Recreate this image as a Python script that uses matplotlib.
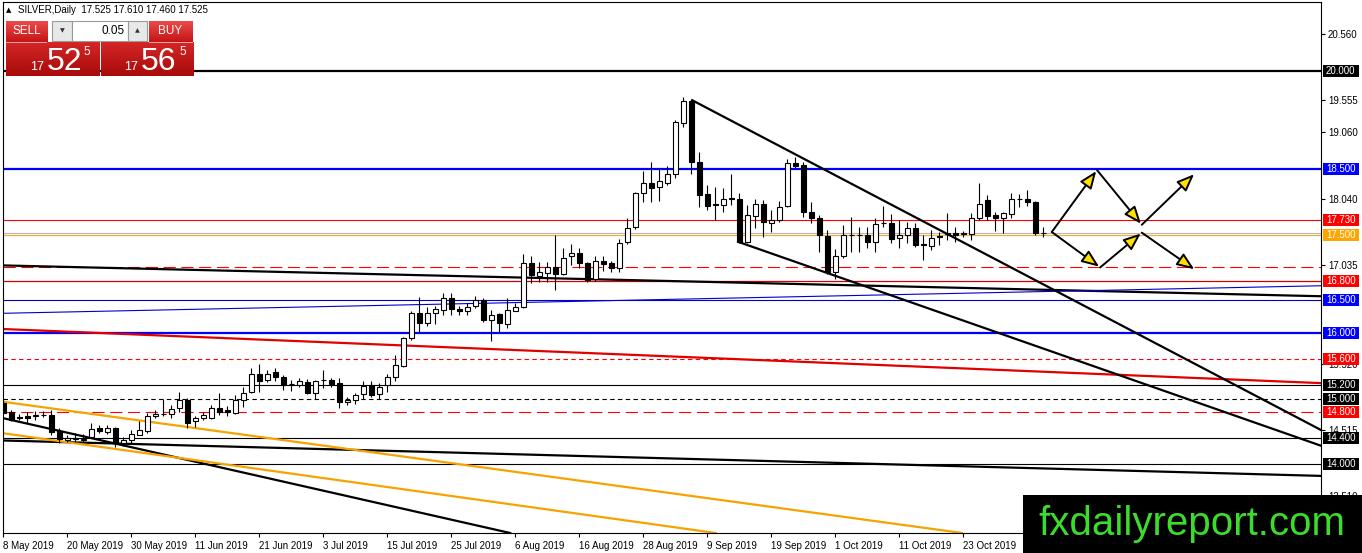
import numpy as np
import matplotlib
matplotlib.use("Agg")
import matplotlib.pyplot as plt
from matplotlib.patches import Rectangle, FancyArrowPatch
from matplotlib.transforms import blended_transform_factory
from matplotlib.colors import LinearSegmentedColormap

plt.rcParams['font.family'] = ['Liberation Sans', 'DejaVu Sans']

W, H = 1362, 553

# SILVER daily bars, 8 May 2019 onwards
opens = [14.93, 14.79, 14.72, 14.74, 14.73, 14.75, 14.75, 14.51, 14.36, 14.38,
         14.36, 14.41, 14.55, 14.49, 14.55, 14.32, 14.36, 14.45, 14.51, 14.73,
         14.77, 14.76, 14.85, 14.98, 14.65, 14.70, 14.71, 14.85, 14.83, 14.78,
         14.97, 15.10, 15.37, 15.28, 15.40, 15.33, 15.22, 15.21, 15.25, 15.09,
         15.28, 15.28, 15.23, 14.95, 14.98, 15.07, 15.20, 15.07, 15.20, 15.33,
         15.50, 15.92, 16.30, 16.15, 16.30, 16.35, 16.54, 16.37, 16.34, 16.41,
         16.50, 16.20, 16.29, 16.14, 16.34, 16.39, 17.06, 16.87, 16.91, 17.00,
         16.90, 17.17, 17.22, 17.06, 16.82, 17.10, 17.06, 16.99, 17.38, 17.61,
         18.13, 18.29, 18.22, 18.28, 18.42, 19.20, 19.54, 18.60, 18.12, 17.96,
         17.95, 18.05, 18.04, 17.38, 17.78, 17.97, 17.68, 17.72, 17.93, 18.59,
         18.56, 17.85, 17.76, 17.48, 16.93, 17.17, 17.49, 17.50, 17.50, 17.38,
         17.68, 17.67, 17.45, 17.49, 17.60, 17.36, 17.33, 17.47, 17.51, 17.53,
         17.51, 17.51, 17.75, 18.03, 17.80, 17.76, 17.82, 18.04, 18.05, 17.99,
         17.525]
highs = [14.97, 14.83, 14.77, 14.80, 14.81, 14.81, 14.82, 14.55, 14.44, 14.47,
         14.46, 14.62, 14.60, 14.60, 14.57, 14.42, 14.52, 14.65, 14.78, 14.83,
         15.00, 14.90, 15.10, 15.01, 14.74, 14.79, 14.90, 15.08, 14.88, 15.05,
         15.18, 15.47, 15.52, 15.43, 15.47, 15.36, 15.28, 15.32, 15.30, 15.28,
         15.43, 15.31, 15.31, 15.02, 15.08, 15.26, 15.26, 15.24, 15.38, 15.66,
         15.94, 16.33, 16.55, 16.39, 16.41, 16.61, 16.61, 16.41, 16.45, 16.57,
         16.54, 16.35, 16.31, 16.53, 16.45, 17.20, 17.17, 17.09, 17.09, 17.49,
         17.29, 17.36, 17.29, 17.08, 17.17, 17.17, 17.10, 17.44, 17.75, 18.15,
         18.47, 18.61, 18.51, 18.54, 19.25, 19.60, 19.56, 18.76, 18.25, 18.23,
         18.21, 18.43, 18.14, 17.95, 18.05, 18.03, 17.88, 18.01, 18.66, 18.69,
         18.61, 18.00, 17.80, 17.57, 17.28, 17.65, 17.77, 17.61, 17.61, 17.75,
         17.93, 17.82, 17.72, 17.69, 17.67, 17.49, 17.57, 17.54, 17.83, 17.62,
         17.56, 17.83, 18.28, 18.10, 17.85, 17.85, 18.13, 18.12, 18.18, 18.02,
         17.61]
lows = [14.76, 14.66, 14.68, 14.63, 14.68, 14.72, 14.45, 14.32, 14.33, 14.33,
        14.33, 14.40, 14.47, 14.46, 14.26, 14.27, 14.32, 14.44, 14.47, 14.71,
        14.73, 14.70, 14.80, 14.55, 14.57, 14.68, 14.69, 14.75, 14.74, 14.77,
        14.87, 15.08, 15.10, 15.25, 15.26, 15.13, 15.11, 15.17, 15.07, 15.00,
        15.16, 15.18, 14.85, 14.90, 14.92, 15.00, 15.03, 15.00, 15.10, 15.26,
        15.48, 15.90, 16.02, 16.11, 16.14, 16.27, 16.27, 16.27, 16.27, 16.38,
        16.16, 15.87, 16.02, 16.07, 16.33, 16.38, 16.76, 16.78, 16.77, 16.66,
        16.88, 17.04, 16.99, 16.78, 16.80, 16.94, 16.93, 16.93, 17.36, 17.59,
        18.00, 17.99, 18.01, 18.26, 18.37, 19.14, 18.43, 17.92, 17.87, 17.72,
        17.85, 17.95, 17.37, 17.37, 17.60, 17.46, 17.54, 17.70, 17.92, 18.51,
        17.77, 17.67, 17.24, 16.90, 16.83, 17.14, 17.24, 17.24, 17.30, 17.24,
        17.62, 17.37, 17.29, 17.37, 17.31, 17.12, 17.26, 17.34, 17.42, 17.39,
        17.46, 17.42, 17.72, 17.72, 17.56, 17.53, 17.75, 17.92, 17.93, 17.49,
        17.46]
closes = [14.78, 14.68, 14.70, 14.70, 14.75, 14.755, 14.49, 14.38, 14.40, 14.40,
          14.39, 14.53, 14.51, 14.55, 14.32, 14.37, 14.46, 14.52, 14.73, 14.77,
          14.76, 14.84, 14.97, 14.62, 14.70, 14.75, 14.85, 14.80, 14.80, 14.98,
          15.09, 15.37, 15.27, 15.38, 15.33, 15.21, 15.215, 15.27, 15.09, 15.27,
          15.285, 15.22, 14.95, 14.98, 15.05, 15.19, 15.05, 15.18, 15.33, 15.51,
          15.92, 16.30, 16.15, 16.30, 16.36, 16.54, 16.36, 16.34, 16.40, 16.51,
          16.20, 16.27, 16.15, 16.35, 16.39, 17.06, 16.88, 16.93, 17.00, 16.90,
          17.15, 17.22, 17.06, 16.81, 17.10, 17.05, 16.99, 17.37, 17.60, 18.14,
          18.29, 18.21, 18.32, 18.42, 19.22, 19.54, 18.60, 18.10, 17.94, 17.95,
          18.05, 18.05, 17.39, 17.80, 17.97, 17.70, 17.73, 17.92, 18.59, 18.55,
          17.85, 17.76, 17.49, 16.93, 17.17, 17.49, 17.50, 17.49, 17.38, 17.66,
          17.68, 17.44, 17.50, 17.60, 17.34, 17.34, 17.45, 17.48, 17.52, 17.49,
          17.52, 17.76, 17.97, 17.78, 17.76, 17.83, 18.04, 18.04, 17.99, 17.52,
          17.525]

date_labels = ["8 May 2019", "20 May 2019", "30 May 2019", "11 Jun 2019",
               "21 Jun 2019", "3 Jul 2019", "15 Jul 2019", "25 Jul 2019",
               "6 Aug 2019", "16 Aug 2019", "28 Aug 2019", "9 Sep 2019",
               "19 Sep 2019", "1 Oct 2019", "11 Oct 2019", "23 Oct 2019"]
date_bars = list(range(0, 121, 8))

price_ticks = [20.560, 19.555, 19.060, 18.040, 17.035, 15.520, 14.515, 13.510]

# horizontal levels that carry a tag on the price scale
level_prices = [20.0, 18.5, 17.73, 17.5, 16.8, 16.5, 16.0, 15.6, 15.2, 15.0, 14.8, 14.4, 14.0]
tag_colors = ['black', '#0000ff', '#ff0000', '#ffa500', '#ff0000', '#0000ff', '#0000ff',
              '#ff0000', 'black', 'black', '#ff0000', 'black', 'black']
line_colors = ['black', '#0000ff', '#ff0000', '#e8b040', '#d00000', '#0000cc', '#0000ff',
               '#ff0000', 'black', 'black', '#ff0000', 'black', 'black']
line_widths = [1.6, 1.6, 0.8, 0.9, 0.9, 0.8, 1.6, 0.8, 0.8, 0.8, 0.8, 0.8, 0.8]
line_styles = ['-', '-', '-', '-', '-', '-', '-', (0, (4, 3)), '-', (0, (4, 3)),
               (0, (11, 5)), '-', '-']

bid_price = 17.525
support_dashed = 17.0

# trend lines through two anchor points (bar index, price)
trend_a = [(0, 17.03), (0, 16.30), (0, 16.06), (0, 14.36), (0, 14.70), (0, 14.95), (0, 14.47)]
trend_b = [(164.7, 16.56), (164.7, 16.72), (164.7, 15.235), (164.7, 13.82),
           (52.1, 13.26), (52.1, 14.08), (52.1, 13.58)]
trend_colors = ['black', '#0000cc', '#e00000', 'black', 'black', '#f5a300', '#f5a300']
trend_widths = [1.6, 0.8, 1.6, 1.6, 1.6, 1.6, 1.6]

# wedge rays, starting at the first anchor and running right
ray_a = [(86.1, 19.55), (91.85, 17.39)]
ray_b = [(164.7, 14.52), (164.7, 14.28)]

# scenario arrows
arrow_pts = {'A': (131.05, 17.54), 'B': (136.7, 18.485), 'C': (142.3, 17.65),
             'D': (148.96, 18.435), 'E': (137.1, 17.0), 'F': (142.3, 17.53),
             'G': (149.0, 16.96)}
arrow_path = [('A', 'B'), ('B', 'C'), ('C', 'D'), ('A', 'E'), ('E', 'F'), ('F', 'G')]

fig = plt.figure(figsize=(W / 100, H / 100), dpi=100)
fig.patch.set_facecolor('white')
ax = fig.add_axes([3 / W, 1 - 533 / H, (1321 - 3) / W, (533 - 2) / H])
xmax = 164.7
ax.set_xlim(-0.04, xmax)
ax.set_ylim(12.949, 21.048)

for p, c, lw, ls in zip(level_prices, line_colors, line_widths, line_styles):
    ax.axhline(p, color=c, lw=lw, ls=ls, zorder=1)
ax.axhline(bid_price, color='#b8b8b8', lw=0.8, zorder=1)
ax.axhline(support_dashed, color='#ff0000', lw=0.8, ls=(0, (11, 5)), zorder=1)

for a, b, c, lw in zip(trend_a, trend_b, trend_colors, trend_widths):
    ax.axline(a, b, color=c, lw=lw, zorder=2)

for a, b in zip(ray_a, ray_b):
    slope = (b[1] - a[1]) / (b[0] - a[0])
    xs = np.array([a[0], xmax])
    ax.plot(xs, a[1] + slope * (xs - a[0]), color='black', lw=1.6, zorder=2)

# candles
o = np.array(opens); h = np.array(highs); l = np.array(lows); c = np.array(closes)
x = np.arange(len(o))
up = c >= o
ax.vlines(x, l, h, color='black', lw=0.8, zorder=3)
bottom = np.minimum(o, c)
height = np.maximum(np.abs(c - o), 0.003)
ax.bar(x[up], height[up], bottom=bottom[up], width=0.58, color='white',
       edgecolor='black', lw=0.8, zorder=4)
ax.bar(x[~up], height[~up], bottom=bottom[~up], width=0.58, color='black',
       edgecolor='black', lw=0.8, zorder=4)

for s, e in arrow_path:
    arr = FancyArrowPatch(arrow_pts[s], arrow_pts[e],
                          arrowstyle='-|>,head_length=0.75,head_width=0.3',
                          mutation_scale=14, facecolor='#ffe000', edgecolor='black',
                          lw=1.4, shrinkA=0, shrinkB=1, zorder=6)
    ax.add_patch(arr)

# axes styling
for sp in ax.spines.values():
    sp.set_linewidth(0.8)
ax.yaxis.tick_right()
ax.set_yticks(price_ticks)
ax.yaxis.set_major_formatter('{x:.3f}')
ax.set_xticks(date_bars)
ax.set_xticklabels(date_labels, ha='left')
ax.tick_params(axis='both', labelsize=7, length=3, width=0.8, pad=2, colors='black')
ax.tick_params(axis='x', pad=3)

# price tags on the scale
tr = blended_transform_factory(ax.transAxes, ax.transData)
box_w = 36 / 1318
box_h = 12 / 65.56
for p, col in zip(level_prices, tag_colors):
    ax.add_patch(Rectangle((1.0 + 2 / 1318, p - box_h / 2), box_w, box_h, transform=tr,
                           facecolor=col, edgecolor='none', clip_on=False, zorder=10))
    ax.text(1.0 + 5 / 1318, p, '%.3f' % p, transform=tr, color='white', fontsize=7,
            ha='left', va='center', clip_on=False, zorder=11)


# one-click trading panel and header (figure pixels)
def fx(px):
    return px / W


def fy(py):
    return 1 - py / H


def grad_box(x0, y0, x1, y1, top, bot):
    bax = fig.add_axes([fx(x0), fy(y1), fx(x1 - x0), (y1 - y0) / H], zorder=20)
    cmap = LinearSegmentedColormap.from_list('g', [top, bot])
    bax.imshow(np.linspace(0, 1, 50).reshape(-1, 1), aspect='auto', cmap=cmap,
               extent=[0, 1, 0, 1], origin='upper')
    bax.set_axis_off()
    return bax


grad_box(6, 21, 47, 42, '#ec4a4a', '#c41515')
grad_box(149, 21, 193, 42, '#ec4a4a', '#c41515')
grad_box(6, 42, 99, 76, '#d42626', '#a80a0a')
grad_box(101, 42, 193, 76, '#d42626', '#a80a0a')
fig.add_artist(Rectangle((fx(6), fy(42.5)), fx(41), 0.8 / H, transform=fig.transFigure,
                         facecolor='#f4a0a0', edgecolor='none', zorder=25))
fig.add_artist(Rectangle((fx(149), fy(42.5)), fx(44), 0.8 / H, transform=fig.transFigure,
                         facecolor='#f4a0a0', edgecolor='none', zorder=25))
for x0, x1, fc in [(52, 72, '#e8e8e8'), (72, 128, 'white'), (128, 147, '#e8e8e8')]:
    fig.add_artist(Rectangle((fx(x0), fy(41)), fx(x1 - x0), 20 / H, transform=fig.transFigure,
                             facecolor=fc, edgecolor='#9a9a9a', lw=0.8, zorder=25))

txt = dict(transform=fig.transFigure, zorder=30)
fig.text(fx(26.5), fy(31), 'SELL', color='white', fontsize=8.5, ha='center', va='center', **txt)
fig.text(fx(170), fy(31), 'BUY', color='white', fontsize=8.5, ha='center', va='center', **txt)
fig.text(fx(62), fy(31), '▼', color='#333333', fontsize=4.5, ha='center', va='center',
         family=['DejaVu Sans'], **txt)
fig.text(fx(137.5), fy(31), '▲', color='#333333', fontsize=4.5, ha='center', va='center',
         family=['DejaVu Sans'], **txt)
fig.text(fx(125), fy(31), '0.05', color='black', fontsize=8.5, ha='right', va='center', **txt)
for x_small, x_big, x_sup, big in [(30, 47, 83, '52'), (124, 141, 179, '56')]:
    fig.text(fx(x_small), fy(70.5), '17', color='white', fontsize=9, ha='left',
             va='baseline', **txt)
    fig.text(fx(x_big), fy(70.5), big, color='white', fontsize=23, ha='left',
             va='baseline', **txt)
    fig.text(fx(x_sup), fy(55), '5', color='white', fontsize=8.5, ha='left',
             va='baseline', **txt)

fig.text(fx(6), fy(10), '▲', color='black', fontsize=5, ha='left', va='center',
         family=['DejaVu Sans'], **txt)
fig.text(fx(18), fy(10), 'SILVER,Daily  17.525 17.610 17.460 17.525', color='black',
         fontsize=7, ha='left', va='center', **txt)

# watermark
fig.add_artist(Rectangle((fx(1022.7), 0), 1 - fx(1022.7), 58 / H, transform=fig.transFigure,
                         facecolor='black', edgecolor='none', zorder=40))
fig.text(fx(1038), fy(535), 'fxdailyreport.com', color='#3cdc2c', fontsize=29,
         ha='left', va='baseline', zorder=41)

fig.savefig('out.png', dpi=100)
